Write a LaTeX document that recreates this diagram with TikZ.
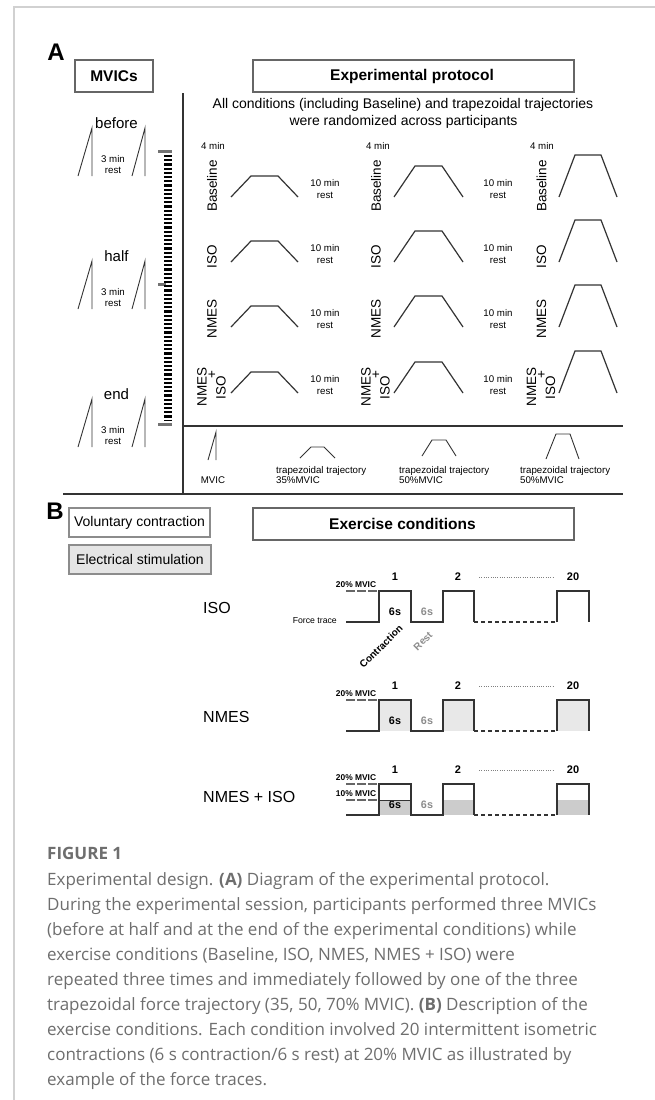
\documentclass[tikz,border=0pt]{standalone}
\usepackage{fontspec}
\setmainfont{Liberation Sans}
\newfontfamily\capfont{Open Sans}
\definecolor{capgray}{HTML}{6E6E6E}
\definecolor{linegray}{HTML}{333333}
\definecolor{boxgray}{HTML}{666666}
\begin{document}
\begin{tikzpicture}[x=1pt,y=-1pt,
  ln/.style={draw=linegray, line width=1.2pt, line join=miter},
  thinln/.style={draw=linegray, line width=0.9pt},
  boxst/.style={draw=boxgray, line width=1.2pt},
  sz/.style={font=\fontsize{#1}{#1}\selectfont},
  bsz/.style={font=\fontsize{#1}{#1}\selectfont\bfseries},
  lbl/.style={inner sep=0pt},
  rot/.style={inner sep=0pt, rotate=90, font=\fontsize{13.5}{13.5}\selectfont},
  capline/.style={inner sep=0pt, anchor=base west, text=capgray, font=\capfont\fontsize{17}{17}\selectfont}
]
\useasboundingbox (0,0) rectangle (655,1100);
\fill[white] (0,0) rectangle (655,1100);
% outer frame
\draw[black!18, line width=1.3pt] (14,1100) -- (14,7) -- (655,7);

% ================= PART A =================
\node[lbl, bsz=24] (labA) at (56,52) {A};
\draw[boxst] (75,60) rectangle (153,92);
\node[lbl, bsz=15.5] (mvics) at (114,76) {MVICs};
\draw[boxst] (253,60) rectangle (574,92);
\node[lbl, bsz=15.5] (exprot) at (412,76) {Experimental protocol};

\node[lbl, sz=14, anchor=base] (head1) at (403,108) {All conditions (including Baseline) and trapezoidal trajectories};
\node[lbl, sz=14, anchor=base] (head2) at (403.5,125) {were randomized across participants};

% frame lines of the protocol
\draw[ln] (183,93) -- (183,494);
\draw[ln] (183,426) -- (623,426);
\draw[ln] (63,494) -- (623,494);

% MVIC column
\foreach \T/\w/\nm in {128/before/mb, 261/half/mh, 399/end/me}{
  \node[lbl, sz=15, anchor=base] (\nm) at (116.5,\T) {\w};
  \draw[thinln] (78,\T+48) -- (92,\T) -- (92,\T+48);
  \draw[thinln] (132,\T+48) -- (145,\T) -- (145,\T+48);
  \node[lbl, sz=9.7, anchor=base] (\nm-a) at (113,\T+34) {3 min};
  \node[lbl, sz=9.7, anchor=base] (\nm-b) at (113,\T+45) {rest};
}
% dashed timeline bar
\fill[black!55] (158,149.5) rectangle (172,152.5);
\fill[black!55] (158,282.5) rectangle (166,285.5);
\fill[black!55] (158,422.5) rectangle (172,425.5);
\draw[black, line width=8pt, dash pattern=on 2.1pt off 2.1pt] (167.5,155) -- (167.5,421);

% trapezoids of the grid
\foreach \x/\h/\r/\f in {231/21/20/27, 394/31/21/27, 559/42/16/26}{
  \foreach \B in {197,262,327,393}{
    \draw[ln] (\x,\B) -- ++(\r,-\h) -- ++(\f,0) -- ++(\r,\h);
  }
}
% 4 min
\foreach \x in {213,378,542}{
  \node[lbl, sz=9.7, anchor=base] at (\x,149) {4 min};
}
% 10 min rest
\foreach \x in {325,498}{
  \foreach \B in {197,262,327,393}{
    \node[lbl, sz=9.7, anchor=base] at (\x,\B-11) {10 min};
    \node[lbl, sz=9.7, anchor=base] at (\x,\B+1) {rest};
  }
}
% row labels
\foreach \cx in {212,376,541.5}{
  \node[rot] at (\cx,186) {Baseline};
  \node[rot] at (\cx,257) {ISO};
  \node[rot] at (\cx,319) {NMES};
  \node[rot] at (\cx-10,387) {NMES};
  \node[rot] at (\cx+0.5,374.5) {+};
  \node[rot] at (\cx+9,388) {ISO};
}

% legend
\draw[thinln] (208,460) -- (216,432) -- (216,460);
\node[lbl, sz=9.7, anchor=base] (lmvic) at (213,483) {MVIC};
\draw[thinln] (300,458) -- (311,447) -- (324,447) -- (335,458);
\draw[thinln] (422,456) -- (432,440) -- (446,440) -- (456,456);
\draw[thinln] (546,459) -- (556,434) -- (570,434) -- (579,459);
\foreach \x/\p/\nm in {276/35/l1, 399/50/l2, 520/50/l3}{
  \node[lbl, sz=9.7, anchor=base west] (\nm a) at (\x,473) {trapezoidal trajectory};
  \node[lbl, sz=9.7, anchor=base west] (\nm b) at (\x,483) {\p\%MVIC};
}

% ================= PART B =================
\node[lbl, bsz=24] (labB) at (55,511) {B};
\draw[boxst, draw=black!45, fill=white] (69,508) rectangle (210,537);
\node[lbl, sz=14] (vol) at (139.5,522.5) {Voluntary contraction};
\draw[boxst, draw=black!45, fill=black!10] (69,545) rectangle (211,574);
\node[lbl, sz=14] (ele) at (140,559.5) {Electrical stimulation};
\draw[boxst] (253,508) rectangle (574,540);
\node[lbl, bsz=15.5, anchor=west] (exc) at (329,524) {Exercise conditions};

\node[lbl, sz=16, anchor=west] (tISO) at (203,608) {ISO};
\node[lbl, sz=16, anchor=west] (tNMES) at (203,717) {NMES};
\node[lbl, sz=16, anchor=west] (tNI) at (203,797) {NMES + ISO};

% fills
\foreach \x/\w in {379/32, 443/31, 557/32}{
  \fill[black!9] (\x,731) rectangle ++(\w,-31);
  \fill[black!20] (\x,815) rectangle ++(\w,-15);
}
% traces
\foreach \yb in {622,731,815}{
  \draw[ln] (346,\yb) -- (379,\yb) -- (379,\yb-31) -- (411,\yb-31) -- (411,\yb) -- (443,\yb) -- (443,\yb-31) -- (474,\yb-31) -- (474,\yb);
  \draw[linegray, line width=1.2pt, dash pattern=on 4pt off 3pt] (474,\yb) -- (557,\yb);
  \draw[ln] (557,\yb) -- (557,\yb-31) -- (589,\yb-31) -- (589,\yb);
  \node[lbl, bsz=11] at (395,\yb-45) {1};
  \node[lbl, bsz=11] at (458,\yb-45) {2};
  \node[lbl, bsz=11] at (573,\yb-45) {20};
  \draw[black!50, line width=0.8pt, dash pattern=on 1pt off 1.3pt] (479,\yb-45) -- (554,\yb-45);
  \node[lbl, bsz=8.4] at (356,\yb-37) {20\% MVIC};
  \draw[black!60, line width=1.1pt, dash pattern=on 9pt off 2pt] (346,\yb-31) -- (379,\yb-31);
  \node[lbl, bsz=10.8] at (395,\yb-10) {6s};
  \node[lbl, bsz=10.8, text=black!45] at (427,\yb-10) {6s};
}
\node[lbl, bsz=8.4] at (356,794) {10\% MVIC};
\draw[black!60, line width=1.1pt, dash pattern=on 9pt off 2pt] (346,800) -- (379,800);
\draw[linegray, line width=1pt] (379,800) -- (411,800);

\node[lbl, sz=8.7, anchor=east] (ft) at (337,621) {Force trace};
\node[lbl, bsz=10, rotate=45] (contr) at (381,646.5) {Contraction};
\node[lbl, bsz=10, rotate=45, text=black!45] (rest) at (423,641) {Rest};

% ================= CAPTION =================
\node[lbl, anchor=base west, text=capgray, font=\capfont\bfseries\fontsize{17}{17}\selectfont] (fig) at (47,859) {FIGURE 1};
\node[capline] at (47,885) {Experimental design. \textbf{(A)} Diagram of the experimental protocol.};
\node[capline] at (47,910) {During the experimental session, participants performed three MVICs};
\node[capline] at (47,935) {(before at half and at the end of the experimental conditions) while};
\node[capline] at (47,960) {exercise conditions (Baseline, ISO, NMES, NMES + ISO) were};
\node[capline] at (47,985) {repeated three times and immediately followed by one of the three};
\node[capline] at (47,1010) {trapezoidal force trajectory (35, 50, 70\% MVIC). \textbf{(B)} Description of the};
\node[capline] at (47,1035) {exercise conditions. Each condition involved 20 intermittent isometric};
\node[capline] at (47,1060) {contractions (6 s contraction/6 s rest) at 20\% MVIC as illustrated by};
\node[capline] at (47,1085) {example of the force traces.};
\end{tikzpicture}
\end{document}
